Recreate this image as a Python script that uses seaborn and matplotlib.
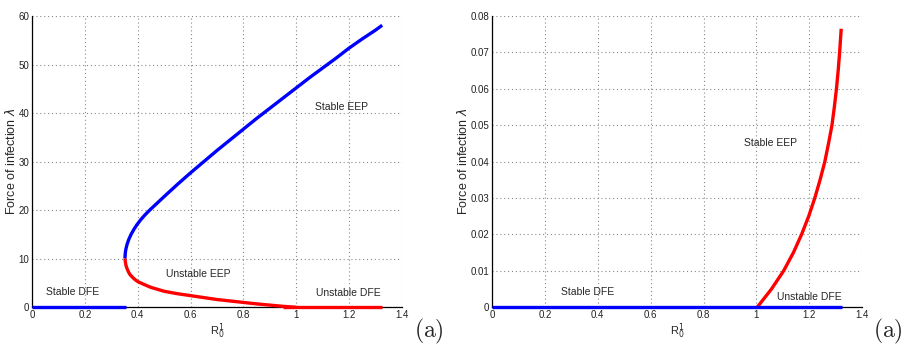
import numpy as np
import pandas as pd
import matplotlib
matplotlib.use("Agg")
import matplotlib.pyplot as plt
import seaborn as sns

# ---------------- data ----------------
# Left panel: upper (stable) EEP branch
upper_x = [0.352, 0.3522, 0.3528, 0.3539, 0.3554, 0.360, 0.3664, 0.3748, 0.3851, 0.397,
           0.411, 0.427, 0.445, 0.500, 0.550, 0.600, 0.650, 0.700, 0.750, 0.800,
           0.850, 0.900, 0.950, 1.000, 1.050, 1.100, 1.150, 1.200, 1.250, 1.300, 1.325]
upper_y = [10.1, 10.5, 11.0, 11.5, 12.0, 13.0, 14.0, 15.0, 16.0, 17.0,
           18.0, 19.0, 20.0, 22.8, 25.3, 27.7, 30.0, 32.3, 34.5, 36.7,
           38.9, 41.0, 43.1, 45.2, 47.3, 49.3, 51.3, 53.4, 55.3, 57.1, 58.1]
# Left panel: lower (unstable) EEP branch
lower_x = [0.352, 0.353, 0.355, 0.358, 0.365, 0.370, 0.380, 0.390, 0.400, 0.420, 0.450,
           0.500, 0.550, 0.600, 0.650, 0.700, 0.750, 0.800, 0.850, 0.900, 0.950, 1.000]
lower_y = [10.1, 9.5, 8.8, 8.2, 7.3, 6.8, 6.2, 5.7, 5.3, 4.8, 4.1,
           3.3, 2.8, 2.4, 2.0, 1.6, 1.3, 1.0, 0.7, 0.45, 0.2, 0.0]
# Left panel: DFE segments
stable_dfe_x_left = [0.0, 0.356]
stable_dfe_y_left = [0.0, 0.0]
unstable_dfe_x_left = [0.95, 1.325]
unstable_dfe_y_left = [0.0, 0.0]

# Right panel: EEP branch
eep_x_right = [1.003, 1.057, 1.103, 1.140, 1.171, 1.198, 1.221, 1.241, 1.259, 1.273,
               1.286, 1.295, 1.303, 1.3095, 1.315, 1.321]
eep_y_right = [0.0, 0.005, 0.010, 0.015, 0.020, 0.025, 0.030, 0.035, 0.040, 0.045,
               0.050, 0.055, 0.060, 0.065, 0.070, 0.0765]
# Right panel: DFE
dfe_x_right = [0.0, 1.325]
dfe_y_right = [0.0, 0.0]

x_ticks = [0, 0.2, 0.4, 0.6, 0.8, 1, 1.2, 1.4]
x_ticklabels = ["0", "0.2", "0.4", "0.6", "0.8", "1", "1.2", "1.4"]
y_ticks_left = [0, 10, 20, 30, 40, 50, 60]
y_ticklabels_left = ["0", "10", "20", "30", "40", "50", "60"]
y_ticks_right = [0, 0.01, 0.02, 0.03, 0.04, 0.05, 0.06, 0.07, 0.08]
y_ticklabels_right = ["0", "0.01", "0.02", "0.03", "0.04", "0.05", "0.06", "0.07", "0.08"]

# ---------------- style ----------------
sns.set_style("white")
plt.rcParams["font.family"] = ["Liberation Sans", "DejaVu Sans"]

BLUE = "#0000ff"
RED = "#ff0000"
LW = 2.4

fig = plt.figure(figsize=(9.03, 3.45), dpi=100)
axL = fig.add_axes([0.0354, 0.1093, 0.4098, 0.8443])
axR = fig.add_axes([0.5449, 0.1093, 0.4098, 0.8443])


def line(ax, xs, ys, color):
    df = pd.DataFrame({"x": xs, "y": ys})
    sns.lineplot(data=df, x="x", y="y", ax=ax, color=color, lw=LW,
                 sort=False, estimator=None, clip_on=False,
                 solid_capstyle="butt", solid_joinstyle="round", zorder=3)


# Left panel
line(axL, stable_dfe_x_left, stable_dfe_y_left, BLUE)
line(axL, unstable_dfe_x_left, unstable_dfe_y_left, RED)
line(axL, lower_x, lower_y, RED)
line(axL, upper_x, upper_y, BLUE)

# Right panel
line(axR, eep_x_right, eep_y_right, RED)
line(axR, dfe_x_right, dfe_y_right, BLUE)


def style(ax, yt, ytl, ylim, ypad):
    ax.set_xlim(0, 1.4)
    ax.set_ylim(*ylim)
    ax.set_xticks(x_ticks)
    ax.set_xticklabels(x_ticklabels)
    ax.set_yticks(yt)
    ax.set_yticklabels(ytl)
    ax.grid(True, linestyle=(0, (1, 2.5)), color="#888888", linewidth=0.8)
    ax.set_axisbelow(True)
    for s in ["top", "right"]:
        ax.spines[s].set_visible(False)
    for s in ["left", "bottom"]:
        ax.spines[s].set_color("black")
        ax.spines[s].set_linewidth(0.9)
    ax.tick_params(axis="both", direction="in", length=3, width=0.7,
                   labelsize=7, colors="black", labelcolor="#222222", pad=2)
    ax.set_xlabel(r"R$_0^1$", fontsize=8, labelpad=1)
    ax.set_ylabel(r"Force of infection $\lambda$", fontsize=9, labelpad=ypad)


style(axL, y_ticks_left, y_ticklabels_left, (0, 60), 0.5)
style(axR, y_ticks_right, y_ticklabels_right, (0, 0.08), 0.5)

# annotations
axL.text(1.07, 41.3, "Stable EEP", fontsize=7.5, va="center", ha="left")
axL.text(0.508, 6.9, "Unstable EEP", fontsize=7.5, va="center", ha="left")
axL.text(0.053, 3.1, "Stable DFE", fontsize=7.5, va="center", ha="left")
axL.text(1.075, 2.9, "Unstable DFE", fontsize=7.5, va="center", ha="left")

axR.text(0.952, 0.0452, "Stable EEP", fontsize=7.5, va="center", ha="left")
axR.text(0.261, 0.0043, "Stable DFE", fontsize=7.5, va="center", ha="left")
axR.text(1.078, 0.0029, "Unstable DFE", fontsize=7.5, va="center", ha="left")

fig.text(429 / 903, 1 - 331 / 345, r"$\mathrm{(a)}$", fontsize=17,
         ha="center", va="center", math_fontfamily="cm")
fig.text(888 / 903, 1 - 331 / 345, r"$\mathrm{(a)}$", fontsize=17,
         ha="center", va="center", math_fontfamily="cm")

fig.savefig("out.png", dpi=100)
